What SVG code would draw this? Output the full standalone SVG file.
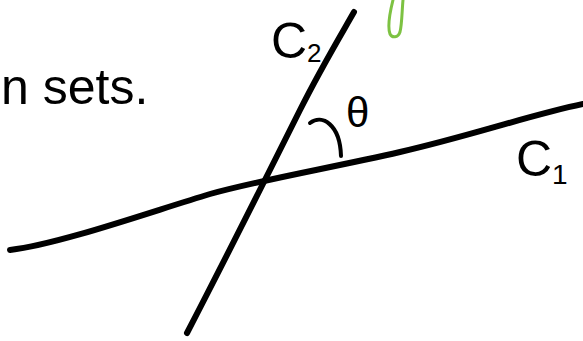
<svg xmlns="http://www.w3.org/2000/svg" width="583" height="341" viewBox="0 0 583 341">
<style>
.ink{fill:none;stroke:#000;stroke-linecap:round;stroke-linejoin:round}
.t{font-family:"Liberation Sans","DejaVu Sans",sans-serif;fill:#000}
</style>
<rect width="583" height="341" fill="#fff"/>
<g id="connectors">
<path id="curve-c1" class="ink" stroke-width="6" d="M10,250 C60,244 150,212 210,194 C260,180 330,168 400,152 C470,136 530,115 583,104"/>
<path id="curve-c2" class="ink" stroke-width="6" d="M187,333 C230,250 270,170 300,110 C320,70 338,40 354,12"/>
<path id="angle-arc" class="ink" stroke-width="4" d="M310,123 C322,114 340,124 341,156"/>
</g>
<path id="green-mark" fill="none" stroke="#7dc242" stroke-width="3" stroke-linecap="round" d="M393,0 C390,12 387,26 390,34 C392,38 398,38 400,32 C402,24 402,10 403,0"/>
<g id="label-sets"><text class="t" x="1" y="104" font-size="50">n sets.</text></g>
<g id="label-c2"><text class="t" x="271" y="58" font-size="50">C<tspan font-size="26" dy="4">2</tspan></text></g>
<g id="label-theta"><text class="t" x="346" y="127" font-size="42">θ</text></g>
<g id="label-c1"><text class="t" x="516" y="176" font-size="50">C<tspan font-size="28" dy="8">1</tspan></text></g>
</svg>
